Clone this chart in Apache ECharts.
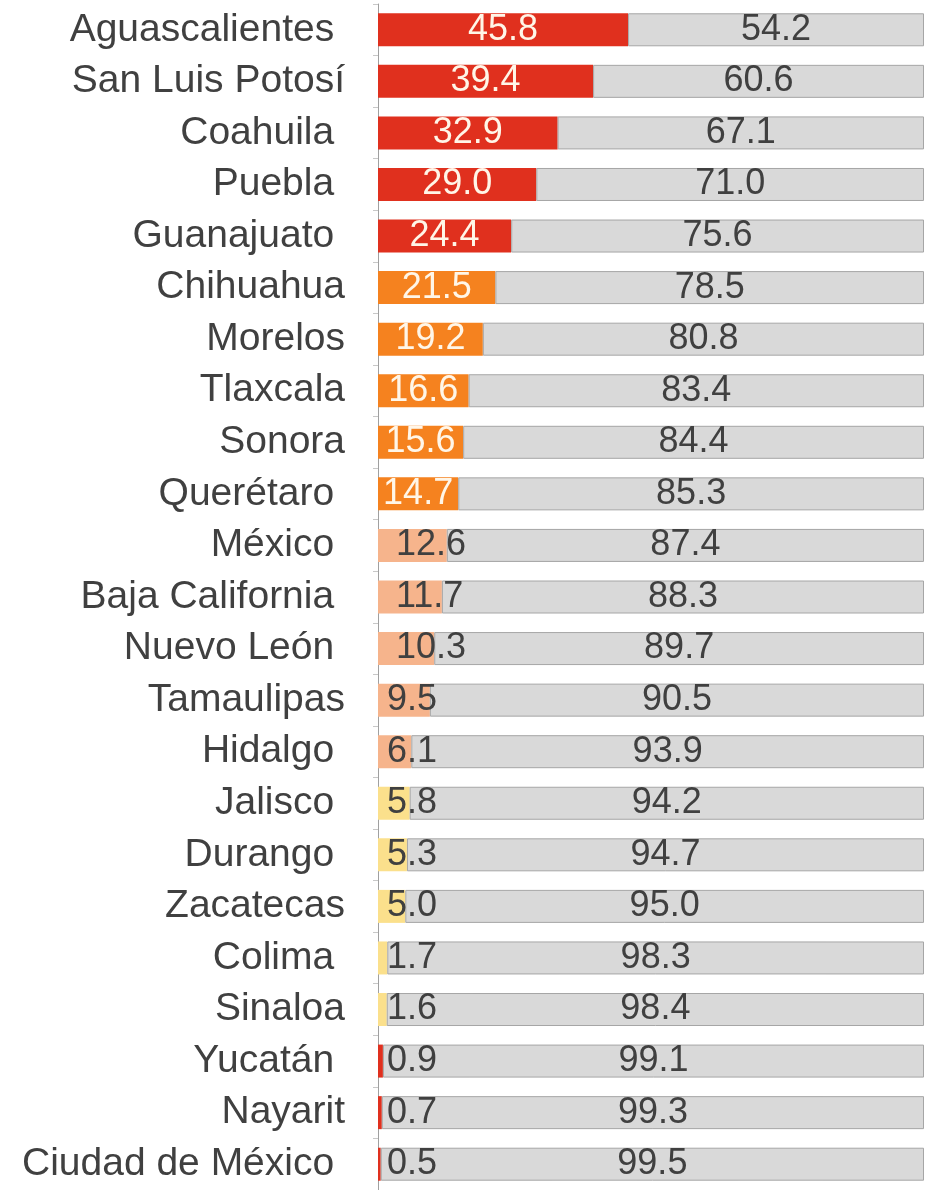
<!DOCTYPE html>
<html>
<head>
<meta charset="utf-8">
<script src="https://cdn.jsdelivr.net/npm/echarts@6/dist/echarts.min.js"></script>
<style>
html, body { margin: 0; padding: 0; background: #fff; }
#chart { width: 925px; height: 1190px; }
</style>
</head>
<body>
<div id="chart"></div>
<script>
// trailing spaces kept: the source labels had them
const states = ['Aguascalientes ', 'San Luis Potosí', 'Coahuila ', 'Puebla ', 'Guanajuato ',
    'Chihuahua', 'Morelos', 'Tlaxcala', 'Sonora', 'Querétaro ', 'México ', 'Baja California ',
    'Nuevo León ', 'Tamaulipas', 'Hidalgo ', 'Jalisco ', 'Durango ', 'Zacatecas', 'Colima ',
    'Sinaloa', 'Yucatán ', 'Nayarit', 'Ciudad de México '];
const shareYes = [45.8, 39.4, 32.9, 29.0, 24.4, 21.5, 19.2, 16.6, 15.6, 14.7, 12.6, 11.7,
    10.3, 9.5, 6.1, 5.8, 5.3, 5.0, 1.7, 1.6, 0.9, 0.7, 0.5];
const shareNo = [54.2, 60.6, 67.1, 71.0, 75.6, 78.5, 80.8, 83.4, 84.4, 85.3, 87.4, 88.3,
    89.7, 90.5, 93.9, 94.2, 94.7, 95.0, 98.3, 98.4, 99.1, 99.3, 99.5];

function tierColor(i)
{
    if (i < 5) return '#e0301e';
    if (i < 10) return '#f5821f';
    if (i < 15) return '#f6b48c';
    if (i < 20) return '#fbe08c';
    return '#e0301e';
}

function yesItem(v, i)
{
    const light = i >= 10;
    let label = { color: light ? '#404040' : '#fff6e8' };
    if (v < 10) {
        label.position = 'insideLeft';
        label.distance = 9;
    } else if (v < 13) {
        label.position = 'insideLeft';
        label.distance = 18;
    }
    return {
        value: v,
        itemStyle: { color: tierColor(i) },
        label: label
    };
}

const chart = echarts.init(document.getElementById('chart'));

chart.setOption({
    animation: false,
    grid: { left: 378, right: 1, top: 4, height: 1190, containLabel: false },
    xAxis: {
        type: 'value', min: 0, max: 100,
        show: false
    },
    yAxis: {
        type: 'category',
        data: states,
        inverse: true,
        axisLine: { show: true, lineStyle: { color: '#a0a0a0', width: 1 } },
        axisTick: { show: true, length: 5, lineStyle: { color: '#c8c8c8' } },
        axisLabel: {
            margin: 33,
            fontFamily: 'Liberation Sans',
            fontSize: 39,
            color: '#404040'
        }
    },
    series: [
        {
            type: 'bar',
            stack: 'total',
            barWidth: 33,
            data: shareYes.map(yesItem),
            label: {
                show: true,
                position: 'inside',
                fontFamily: 'Liberation Sans',
                fontSize: 36,
                formatter: (p) => p.value.toFixed(1)
            }
        },
        {
            type: 'bar',
            stack: 'total',
            barWidth: 33,
            data: shareNo,
            itemStyle: { color: '#d9d9d9', borderColor: '#a6a6a6', borderWidth: 1 },
            label: {
                show: true,
                position: 'inside',
                fontFamily: 'Liberation Sans',
                fontSize: 36,
                color: '#404040',
                formatter: (p) => p.value.toFixed(1)
            }
        }
    ]
});
</script>
</body>
</html>
